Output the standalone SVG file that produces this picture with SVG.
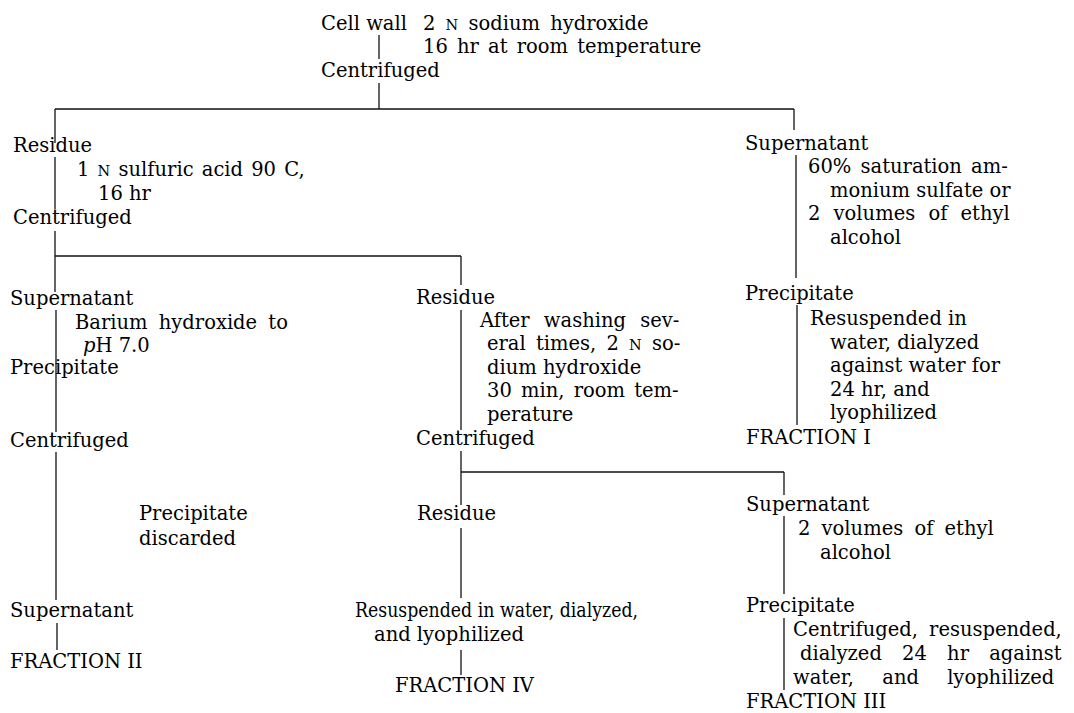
<svg xmlns="http://www.w3.org/2000/svg" width="1074" height="713" viewBox="0 0 1074 713">
<style>
text{font-family:"DejaVu Serif","Liberation Serif",serif;font-size:19.5px;fill:#000}
.sc{font-size:14.5px}
.it{font-style:italic}
.c line{stroke:#111;stroke-width:1.3}
</style>
<rect width="1074" height="713" fill="#fff"/>
<g class="c" id="connectors">
<line x1="379" y1="35" x2="379" y2="59"/>
<line x1="379" y1="83" x2="379" y2="109"/>
<line x1="55" y1="109" x2="794" y2="109"/>
<line x1="55" y1="109" x2="55" y2="143"/>
<line x1="794" y1="109" x2="794" y2="130"/>
<line x1="55" y1="157" x2="55" y2="209"/>
<line x1="55" y1="231" x2="55" y2="256"/>
<line x1="55" y1="256" x2="461" y2="256"/>
<line x1="55" y1="256" x2="55" y2="292"/>
<line x1="461" y1="256" x2="461" y2="285"/>
<line x1="56" y1="310" x2="56" y2="432"/>
<line x1="56" y1="452" x2="56" y2="600"/>
<line x1="57" y1="623" x2="57" y2="650"/>
<line x1="461" y1="310" x2="461" y2="430"/>
<line x1="461" y1="451" x2="461" y2="472"/>
<line x1="461" y1="472" x2="784" y2="472"/>
<line x1="461" y1="472" x2="461" y2="505"/>
<line x1="461" y1="528" x2="461" y2="598"/>
<line x1="461" y1="650" x2="461" y2="675"/>
<line x1="784" y1="472" x2="784" y2="495"/>
<line x1="784" y1="516" x2="784" y2="594"/>
<line x1="784" y1="618" x2="784" y2="690"/>
<line x1="796" y1="155" x2="796" y2="278"/>
<line x1="797" y1="305" x2="797" y2="425"/>
</g>
<g id="cellwall">
<text x="321" y="30">Cell wall</text>
<text x="423" y="30" word-spacing="4">2 <tspan class="sc">N</tspan> sodium hydroxide</text>
<text x="423" y="53" word-spacing="3">16 hr at room temperature</text>
</g>
<g id="centrifuged1"><text x="321" y="77">Centrifuged</text></g>
<g id="residue1">
<text x="13" y="152">Residue</text>
<text x="77" y="176" word-spacing="2">1 <tspan class="sc">N</tspan> sulfuric acid 90 C,</text>
<text x="98" y="200">16 hr</text>
</g>
<g id="centrifuged2"><text x="13" y="224">Centrifuged</text></g>
<g id="supernatant1">
<text x="745" y="150">Supernatant</text>
<text x="808" y="173" word-spacing="3">60% saturation am-</text>
<text x="830" y="197">monium sulfate or</text>
<text x="808" y="220" word-spacing="7">2 volumes of ethyl</text>
<text x="830" y="244">alcohol</text>
</g>
<g id="precipitate1">
<text x="745" y="300">Precipitate</text>
<text x="810" y="325">Resuspended in</text>
<text x="830" y="349">water, dialyzed</text>
<text x="830" y="372">against water for</text>
<text x="830" y="396">24 hr, and</text>
<text x="830" y="419">lyophilized</text>
</g>
<g id="fraction1"><text x="746" y="444">FRACTION I</text></g>
<g id="supernatant2">
<text x="10" y="305">Supernatant</text>
<text x="75" y="329" word-spacing="5">Barium hydroxide to</text>
<text x="83" y="352"><tspan class="it">p</tspan>H 7.0</text>
</g>
<g id="precipitate2"><text x="10" y="374">Precipitate</text></g>
<g id="centrifuged3"><text x="10" y="447">Centrifuged</text></g>
<g id="discarded">
<text x="139" y="520">Precipitate</text>
<text x="139" y="545">discarded</text>
</g>
<g id="supernatant3"><text x="10" y="617">Supernatant</text></g>
<g id="fraction2"><text x="10" y="668">FRACTION II</text></g>
<g id="residue2">
<text x="416" y="304">Residue</text>
<text x="480" y="327" word-spacing="8">After washing sev-</text>
<text x="487" y="350" word-spacing="4">eral times, 2 <tspan class="sc">N</tspan> so-</text>
<text x="487" y="374">dium hydroxide</text>
<text x="487" y="397" word-spacing="3">30 min, room tem-</text>
<text x="487" y="421">perature</text>
</g>
<g id="centrifuged4"><text x="416" y="445">Centrifuged</text></g>
<g id="residue3"><text x="417" y="520">Residue</text></g>
<g id="resuspended">
<text x="355" y="617" textLength="283" lengthAdjust="spacingAndGlyphs">Resuspended in water, dialyzed,</text>
<text x="374" y="641">and lyophilized</text>
</g>
<g id="fraction4"><text x="395" y="692">FRACTION IV</text></g>
<g id="supernatant4">
<text x="746" y="511">Supernatant</text>
<text x="798" y="535" word-spacing="5">2 volumes of ethyl</text>
<text x="820" y="559">alcohol</text>
</g>
<g id="precipitate3">
<text x="746" y="612">Precipitate</text>
<text x="793" y="636" word-spacing="5">Centrifuged, resuspended,</text>
<text x="800" y="660" word-spacing="14">dialyzed 24 hr against</text>
<text x="793" y="684" word-spacing="22">water, and lyophilized</text>
</g>
<g id="fraction3"><text x="746" y="708">FRACTION III</text></g>
</svg>
